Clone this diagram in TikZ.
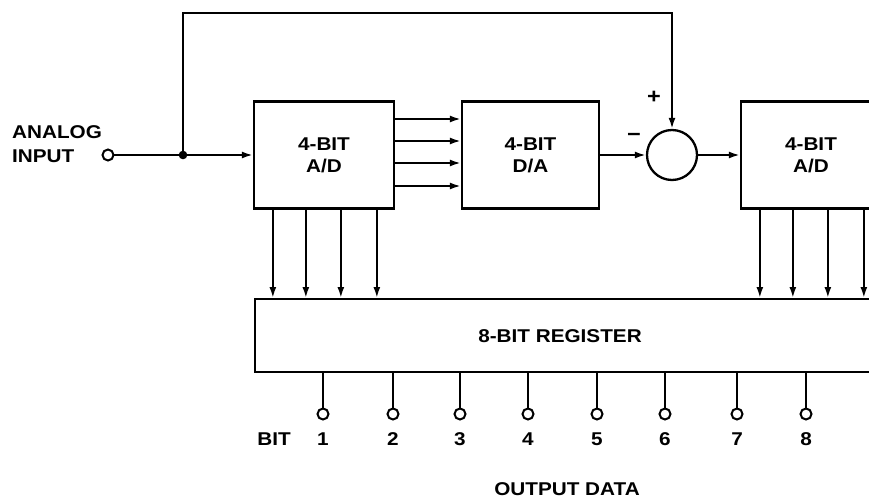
\documentclass[tikz,border=0pt]{standalone}
\usepackage{fontspec}
\setmainfont[FakeStretch=1.12]{Liberation Sans}
\usetikzlibrary{arrows.meta}
\begin{document}
\begin{tikzpicture}[x=1pt,y=-1pt,
  txt/.style={font=\fontsize{18.5}{22}\selectfont\bfseries,inner sep=0pt},
  blk/.style={draw,line width=2.3pt,minimum width=140pt,minimum height=107pt,inner sep=0pt,align=center,font=\fontsize{18.5}{22}\selectfont\bfseries},
  ln/.style={line width=2pt},
  arr/.style={line width=2pt,-{Latex[length=11pt,width=7pt]}},
  term/.style={draw,circle,line width=2pt,minimum size=11pt,inner sep=0pt,fill=white}]
\useasboundingbox (0,0) rectangle (869,500);
\clip (0,0) rectangle (869,500);
% blocks
\node[blk] (adone) at (324,155) {4-BIT\\A/D};
\node[blk,minimum width=137pt] (da) at (530.5,155) {4-BIT\\D/A};
\node[draw,circle,line width=2.3pt,minimum size=50pt,inner sep=0pt] (sum) at (672,155) {};
\node[blk] (adtwo) at (811,155) {4-BIT\\A/D};
\node[draw,line width=2.3pt,minimum width=660pt,minimum height=73pt,inner sep=0pt,anchor=north west] (reg) at (254,298) {};
\node[txt] (regtxt) at (560,336) {8-BIT REGISTER};
% input
\node[txt,anchor=base west] (lblA) at (12,138) {ANALOG};
\node[txt,anchor=base west] (lblB) at (12,162) {INPUT};
\coordinate (j) at (183,155);
\coordinate (fb) at (400,13);
\draw[ln] (113,155) -- (j);
\node[term] (in) at (108,155) {};
\draw[arr] (j) -- (adone.west |- j);
\draw[arr] (j) |- (fb) -| (sum.north);
\fill (j) circle (4.3pt);
\node[txt,font=\fontsize{21}{22}\selectfont\bfseries] (plus) at (654,97) {+};
\node[txt,font=\fontsize{21}{22}\selectfont\bfseries] (minus) at (634,137) {−};
% A/D to D/A
\foreach \yy in {119,141,163,186} {
  \coordinate (s\yy) at (adone.east |- 0,\yy);
  \draw[arr] (s\yy) -- (s\yy -| da.west);
}
\draw[arr] (da.east |- sum.west) -- (sum.west);
\draw[arr] (sum.east) -- (adtwo.west |- sum.east);
% down arrows
\foreach \dx in {20,53,88,124} {
  \coordinate (p\dx) at ([xshift=\dx pt]adone.south west);
  \draw[arr] (p\dx) -- (p\dx |- reg.north);
  \coordinate (q\dx) at ([xshift=\dx pt]adtwo.south west);
  \draw[arr] (q\dx) -- (q\dx |- reg.north);
}
% outputs
\foreach \i/\x in {1/323,2/393,3/460,4/528,5/597,6/665,7/737,8/806} {
  \node[term] (o\i) at (\x,414) {};
  \draw[ln] (reg.south -| o\i) -- (o\i.north);
  \node[txt,anchor=base] (d\i) at (\x,445) {\i};
}
\node[txt,anchor=base] (bit) at (274,445) {BIT};
\node[txt,anchor=base] (outd) at (567,495) {OUTPUT DATA};
\end{tikzpicture}
\end{document}
